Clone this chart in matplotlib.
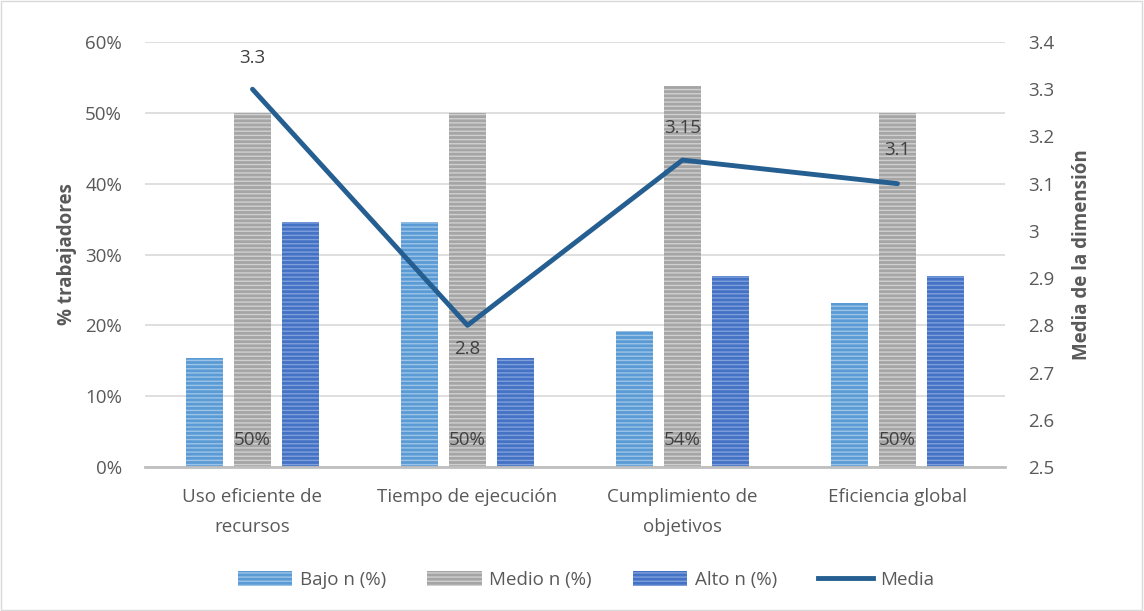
import matplotlib
matplotlib.use("Agg")
import matplotlib.pyplot as plt
import numpy as np
from matplotlib.patches import Patch
from matplotlib.lines import Line2D

categories = ["Uso eficiente de\nrecursos", "Tiempo de ejecución", "Cumplimiento de\nobjetivos", "Eficiencia global"]
bajo = [15.4, 34.6, 19.2, 23.1]
medio = [50.0, 50.0, 53.8, 50.0]
alto = [34.6, 15.4, 26.9, 26.9]
media = [3.3, 2.8, 3.15, 3.1]
medio_labels = ["50%", "50%", "54%", "50%"]
media_labels = ["3.3", "2.8", "3.15", "3.1"]

plt.rcParams['font.family'] = ['Open Sans', 'DejaVu Sans']
plt.rcParams['hatch.linewidth'] = 1.0
txt = "#595959"
fs = 13.5

fig = plt.figure(figsize=(11.44, 6.11), dpi=100)
ax = fig.add_axes([145/1144, 1-467/611, (1005-145)/1144, (467-42)/611])
ax2 = ax.twinx()

x = np.arange(len(categories))
w = 0.172
off = 0.223
cols = ["#5B9BD5", "#A5A5A5", "#4472C4"]
hcols = ["#9DC3E6", "#D0D0D0", "#7F9FDB"]
for data, dx, c, hc in zip([bajo, medio, alto], [-off, 0, off], cols, hcols):
    ax.bar(x + dx, data, w, color=c, edgecolor=hc, linewidth=0, hatch='----', zorder=2)

for xi, lab in zip(x, medio_labels):
    ax.text(xi, 3.8, lab, ha='center', va='center', fontsize=fs, color="#404040", zorder=5)

ax.set_ylim(0, 60)
ax.set_yticks(range(0, 61, 10))
ax.set_yticklabels([f"{v}%" for v in range(0, 61, 10)])
ax.set_xlim(-0.5, 3.5)
ax.set_xticks(x)
ax.set_xticklabels(categories, linespacing=1.85)
ax.grid(axis='y', color="#D9D9D9", linewidth=1.2, zorder=0)
ax.set_axisbelow(True)
for s in ['top', 'right', 'left']:
    ax.spines[s].set_visible(False)
ax.spines['bottom'].set_color("#BFBFBF")
ax.spines['bottom'].set_linewidth(2)
ax.tick_params(axis='both', length=0, labelsize=fs, colors=txt)
ax.tick_params(axis='x', pad=15)
ax.tick_params(axis='y', pad=16.5)
ax.set_ylabel("% trabajadores", fontsize=fs, fontweight='bold', color=txt, labelpad=6)

ax2.plot(x, media, color="#255E91", linewidth=3.5, zorder=4, solid_capstyle='round')
ax2.set_ylim(2.5, 3.4)
ax2.set_yticks(np.round(np.arange(2.5, 3.41, 0.1), 1))
ax2.set_yticklabels(["2.5", "2.6", "2.7", "2.8", "2.9", "3", "3.1", "3.2", "3.3", "3.4"])
for s in ax2.spines.values():
    s.set_visible(False)
ax2.tick_params(axis='y', length=0, labelsize=fs, colors=txt, pad=16.5)
ax2.set_ylabel("Media de la dimensión", fontsize=fs, fontweight='bold', color=txt, labelpad=13)

offsets = [0.066, -0.05, 0.068, 0.071]
for xi, v, lab, o in zip(x, media, media_labels, offsets):
    ax2.text(xi, v + o, lab, ha='center', va='center', fontsize=fs, color="#404040", zorder=6)

handles = [Patch(facecolor=c, edgecolor=hc, linewidth=0, hatch='----') for c, hc in zip(cols, hcols)]
handles.append(Line2D([0], [0], color="#255E91", linewidth=3.5))
fig.legend(handles, ["Bajo n (%)", "Medio n (%)", "Alto n (%)", "Media"], loc='center',
           bbox_to_anchor=(586/1144, 1-580/611), ncol=4, frameon=False, fontsize=fs,
           labelcolor=txt, handlelength=2.9, handleheight=0.8, columnspacing=2.2, handletextpad=0.4)

fig.patches.append(plt.Rectangle((0.001, 0.001), 0.997, 0.997, transform=fig.transFigure,
                                 fill=False, edgecolor="#D9D9D9", linewidth=1))
fig.savefig("out.png", dpi=100)
